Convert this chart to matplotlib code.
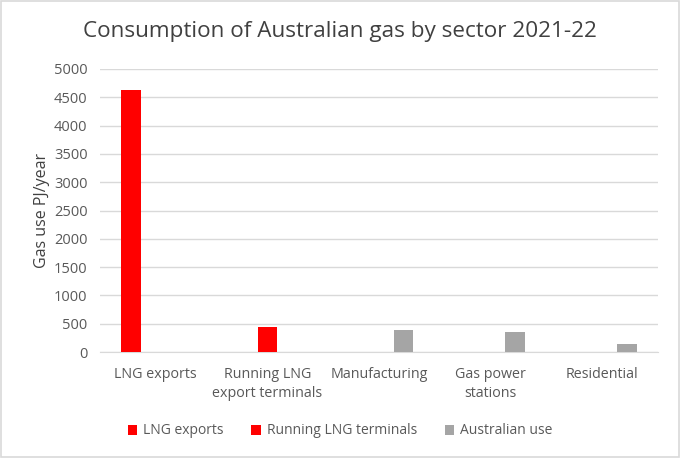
import numpy as np
import matplotlib
matplotlib.use("Agg")
import matplotlib.pyplot as plt

categories = ["LNG exports", "Running LNG\nexport terminals", "Manufacturing",
              "Gas power\nstations", "Residential"]
lng_exports = [4630, 0, 0, 0, 0]
running_lng = [0, 445, 0, 0, 0]
australian_use = [0, 0, 380, 362, 145]
series_names = ["LNG exports", "Running LNG terminals", "Australian use"]
colors = ["#FF0000", "#FF0000", "#A5A5A5"]

plt.rcParams["font.family"] = ["Open Sans", "DejaVu Sans"]
fig = plt.figure(figsize=(6.8, 4.58), dpi=100)
ax = fig.add_axes([100/680, 1 - 352/458, 558/680, 283/458])

x = np.arange(len(categories))
w = 0.175
off = 0.22
for i, (vals, name, c) in enumerate(zip([lng_exports, running_lng, australian_use],
                                         series_names, colors)):
    ax.bar(x + (i - 1) * off, vals, width=w, color=c, label=name, zorder=3)

ax.set_xlim(-0.5, len(categories) - 0.5)
ax.set_ylim(0, 5000)
ax.set_yticks(range(0, 5001, 500))
ax.grid(axis="y", color="#D9D9D9", linewidth=1, zorder=0)
for s in ["top", "right", "left"]:
    ax.spines[s].set_visible(False)
ax.spines["bottom"].set_color("#D9D9D9")
ax.tick_params(length=0, colors="#595959", labelsize=10.5)
ax.tick_params(axis="x", pad=11, labelsize=10.3)
ax.tick_params(axis="y", pad=9)
ax.set_xticks(x)
ax.set_xticklabels(categories, linespacing=1.35)
ax.set_ylabel("Gas use PJ/year", color="#404040", fontsize=11.5, labelpad=3)

fig.suptitle("Consumption of Australian gas by sector 2021-22", y=1 - 32/458,
             va="center", fontsize=16.2, color="#404040")

fig.legend(loc="center", bbox_to_anchor=(0.5, 1 - 431/458), ncol=3, frameon=False,
           fontsize=10, labelcolor="#595959", handlelength=0.7, handleheight=0.7,
           handletextpad=0.4, columnspacing=2.0)

fig.patches.append(plt.Rectangle((0.002, 0.002), 0.996, 0.996, transform=fig.transFigure,
                                 fill=False, edgecolor="#D9D9D9", linewidth=1.2))
fig.savefig("out.png", dpi=100)
